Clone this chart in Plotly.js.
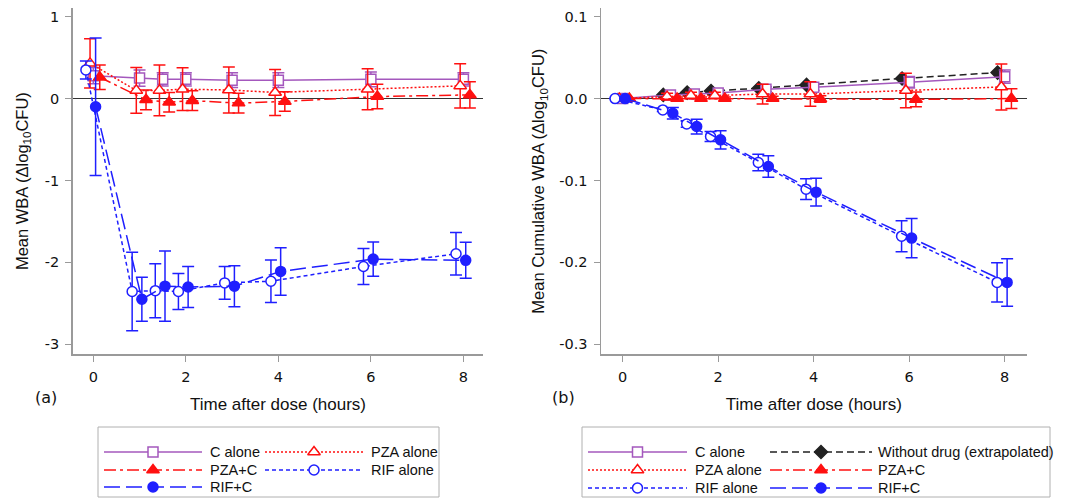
<!DOCTYPE html>
<html>
<head>
<meta charset="utf-8">
<script src="https://cdn.plot.ly/plotly-3.0.1.min.js"></script>
<style>html,body{margin:0;padding:0;background:#fff;}#chart{width:1070px;height:498px;}</style>
</head>
<body>
<div id="chart"></div>
<script>
// ---------------- DATA ----------------
const time = [0, 1, 1.5, 2, 3, 4, 6, 8];
const timeNoDrug = [1, 1.5, 2, 3, 4, 6, 8];

// Panel (a): Mean WBA
const cAloneA     = [0.28, 0.25, 0.235, 0.235, 0.225, 0.225, 0.235, 0.235];
const cAloneAErr  = [0.10, 0.10, 0.08, 0.08, 0.09, 0.09, 0.09, 0.08];
const pzaAloneA   = [0.43, 0.10, 0.10, 0.115, 0.105, 0.075, 0.115, 0.155];
const pzaAloneAErr= [0.30, 0.28, 0.31, 0.26, 0.28, 0.28, 0.25, 0.27];
const pzaCA       = [0.26, -0.015, -0.045, -0.025, -0.055, -0.035, 0.025, 0.045];
const pzaCAErr    = [0.15, 0.12, 0.12, 0.12, 0.12, 0.12, 0.15, 0.16];
const rifAloneA   = [0.35, -2.355, -2.345, -2.355, -2.25, -2.23, -2.05, -1.895];
const rifAloneAErr= [0.11, 0.48, 0.33, 0.22, 0.20, 0.26, 0.22, 0.26];
const rifCA       = [-0.10, -2.45, -2.29, -2.30, -2.29, -2.11, -1.96, -1.975];
const rifCAErr    = [0.84, 0.27, 0.43, 0.25, 0.25, 0.29, 0.21, 0.22];

// Panel (b): Mean cumulative WBA
const cAloneB     = [0, 0.0045, 0.0057, 0.0069, 0.0114, 0.0138, 0.020, 0.0268];
const cAloneBErr  = [0, 0.002, 0.002, 0.002, 0.003, 0.004, 0.007, 0.008];
const pzaAloneB   = [0, 0.0024, 0.0037, 0.0037, 0.0055, 0.0055, 0.0098, 0.0142];
const pzaAloneBErr= [0, 0.004, 0.004, 0.004, 0.012, 0.015, 0.021, 0.028];
const pzaCB       = [0, 0, 0, 0, 0, -0.0005, -0.001, 0];
const pzaCBErr    = [0, 0.002, 0.002, 0.002, 0.003, 0.004, 0.009, 0.012];
const rifAloneB   = [0, -0.0138, -0.031, -0.0463, -0.078, -0.1106, -0.168, -0.2244];
const rifAloneBErr= [0, 0.002, 0.004, 0.006, 0.010, 0.0126, 0.019, 0.024];
const rifCB       = [0, -0.0179, -0.0341, -0.0504, -0.0829, -0.1142, -0.1703, -0.2244];
const rifCBErr    = [0, 0.007, 0.009, 0.011, 0.013, 0.017, 0.024, 0.029];
const noDrugB     = [0.0045, 0.0073, 0.0093, 0.0126, 0.0167, 0.0245, 0.0317];

const xTickVals = [0, 2, 4, 6, 8];
const yTickValsA = [1, 0, -1, -2, -3];
const yTickTextA = ['1', '0', '-1', '-2', '-3'];
const yTickValsB = [0.1, 0, -0.1, -0.2, -0.3];
const yTickTextB = ['0.1', '0.0', '-0.1', '-0.2', '-0.3'];

// ---------------- STYLES ----------------
const PURPLE = '#a458bd', RED = '#ff1010', BLUE = '#1f1fff', BLACK = '#222222';
const S = {
  'C alone':   {color: PURPLE, dash: 'solid', symbol: 'square', fill: '#ffffff', dodge: 0, size: 10},
  'PZA alone': {color: RED, dash: '2px,2px', symbol: 'triangle-up', fill: '#ffffff', dodge: -0.07, size: 11},
  'PZA+C':     {color: RED, dash: '12px,4px,3px,4px', symbol: 'triangle-up', fill: RED, dodge: 0.14, size: 11},
  'RIF alone': {color: BLUE, dash: '4px,3px', symbol: 'circle', fill: '#ffffff', dodge: -0.16, size: 10},
  'RIF+C':     {color: BLUE, dash: '16px,6px', symbol: 'circle', fill: BLUE, dodge: 0.05, size: 10},
  'Without drug (extrapolated)': {color: BLACK, dash: '7px,4px', symbol: 'diamond', fill: BLACK, dodge: -0.15, size: 10}
};

function series(name, t, y, err, xa, ya) {
  const s = S[name];
  const tr = {
    type: 'scatter', mode: 'lines+markers', name: name, showlegend: false,
    x: t.map(v => v + s.dodge), y: y, xaxis: xa, yaxis: ya,
    line: {color: s.color, width: 1.5, dash: s.dash},
    marker: {symbol: s.symbol, size: s.size, color: s.fill, line: {color: s.color, width: 1.5}},
    cliponaxis: false
  };
  if (err) tr.error_y = {type: 'data', array: err, visible: true, color: s.color, thickness: 1.5, width: 6};
  return tr;
}

const traces = [
  series('C alone', time, cAloneA, cAloneAErr, 'x', 'y'),
  series('PZA alone', time, pzaAloneA, pzaAloneAErr, 'x', 'y'),
  series('PZA+C', time, pzaCA, pzaCAErr, 'x', 'y'),
  series('RIF alone', time, rifAloneA, rifAloneAErr, 'x', 'y'),
  series('RIF+C', time, rifCA, rifCAErr, 'x', 'y'),

  series('Without drug (extrapolated)', timeNoDrug, noDrugB, null, 'x2', 'y2'),
  series('C alone', time, cAloneB, cAloneBErr, 'x2', 'y2'),
  series('PZA alone', time, pzaAloneB, pzaAloneBErr, 'x2', 'y2'),
  series('PZA+C', time, pzaCB, pzaCBErr, 'x2', 'y2'),
  series('RIF alone', time, rifAloneB, rifAloneBErr, 'x2', 'y2'),
  series('RIF+C', time, rifCB, rifCBErr, 'x2', 'y2')
];

// ---------------- LEGENDS (drawn on an overlay pixel axis) ----------------
const legendA = {box: [98, 427, 439, 497], cols: [[104, 202, 208], [265, 363, 369]], rows: [452, 470, 487],
  items: [['C alone', 0, 0], ['PZA alone', 1, 0], ['PZA+C', 0, 1], ['RIF alone', 1, 1], ['RIF+C', 0, 2]]};
const legendB = {box: [582, 427, 1050, 497], cols: [[588, 687, 693], [770, 872, 876]], rows: [452, 470, 488],
  items: [['C alone', 0, 0], ['Without drug (extrapolated)', 1, 0], ['PZA alone', 0, 1], ['PZA+C', 1, 1], ['RIF alone', 0, 2], ['RIF+C', 1, 2]]};

const shapes = [];
const annotations = [];
[legendA, legendB].forEach(L => {
  shapes.push({type: 'rect', xref: 'x3', yref: 'y3', x0: L.box[0], y0: L.box[1], x1: L.box[2], y1: L.box[3],
    line: {color: '#b0b0b0', width: 1}, fillcolor: 'rgba(0,0,0,0)'});
  L.items.forEach(([name, c, r]) => {
    const s = S[name];
    const [x0, x1, xt] = L.cols[c];
    const y = L.rows[r];
    traces.push({
      type: 'scatter', mode: 'lines+markers', showlegend: false, hoverinfo: 'skip',
      x: [x0, (x0 + x1) / 2, x1], y: [y, y, y], xaxis: 'x3', yaxis: 'y3',
      line: {color: s.color, width: 1.5, dash: s.dash},
      marker: {symbol: s.symbol, size: s.size, color: s.fill, opacity: [0, 1, 0], line: {color: s.color, width: 1.5}}
    });
    annotations.push({xref: 'x3', yref: 'y3', x: xt, y: y, text: name, showarrow: false,
      xanchor: 'left', yanchor: 'middle', font: {family: 'Liberation Sans, Arial, sans-serif', size: 14.5, color: '#111'}});
  });
});
annotations.push({xref: 'x3', yref: 'y3', x: 46, y: 397, text: '(a)', showarrow: false, xanchor: 'center', yanchor: 'middle',
  font: {family: 'DejaVu Sans, sans-serif', size: 16, color: '#111'}});
annotations.push({xref: 'x3', yref: 'y3', x: 563, y: 397, text: '(b)', showarrow: false, xanchor: 'center', yanchor: 'middle',
  font: {family: 'DejaVu Sans, sans-serif', size: 16, color: '#111'}});

// ---------------- LAYOUT ----------------
const W = 1070, H = 498;
const tickFont = {family: 'DejaVu Sans, sans-serif', size: 14.5, color: '#111'};
const titleFont = {family: 'Liberation Sans, Arial, sans-serif', size: 17, color: '#111'};
const yTitleFont = {family: 'Liberation Sans, Arial, sans-serif', size: 16.5, color: '#111'};
const yDom = [1 - 354.3 / H, 1 - 8 / H];

function xAxis(dom, range, anchor) {
  return {domain: dom, range: range, anchor: anchor, tickvals: xTickVals, ticks: 'outside', ticklen: 6, tickwidth: 1.2,
    tickcolor: '#9a9a9a', showline: true, linecolor: '#9a9a9a', linewidth: 1.5, showgrid: false, zeroline: false,
    tickfont: tickFont, ticklabelstandoff: 3, automargin: false,
    title: {text: 'Time after dose (hours)', font: titleFont, standoff: 14}};
}
function yAxis(dom, range, anchor, vals, text, title, standoff) {
  return {domain: dom, range: range, anchor: anchor, tickvals: vals, ticktext: text, ticks: 'outside', ticklen: 6,
    tickwidth: 1.2, tickcolor: '#9a9a9a', showline: true, linecolor: '#9a9a9a', linewidth: 1.5, showgrid: false,
    zeroline: true, zerolinecolor: '#333333', zerolinewidth: 1.5, tickfont: tickFont, ticklabelstandoff: 3,
    automargin: false, title: {text: title, font: yTitleFont, standoff: standoff}};
}

const layout = {
  width: W, height: H,
  margin: {l: 0, r: 0, t: 0, b: 0, pad: 0},
  paper_bgcolor: '#ffffff', plot_bgcolor: 'rgba(0,0,0,0)',
  showlegend: false,
  xaxis: xAxis([72.7 / W, 483.3 / W], [-0.445, 8.43], 'y'),
  yaxis: yAxis(yDom, [-3.122, 1.106], 'x', yTickValsA, yTickTextA, 'Mean WBA (Δlog<sub>10</sub>CFU)', 12),
  xaxis2: xAxis([601 / W, 1026.7 / W], [-0.454, 8.46], 'y2'),
  yaxis2: yAxis(yDom, [-0.3122, 0.1106], 'x2', yTickValsB, yTickTextB, 'Mean Cumulative WBA (Δlog<sub>10</sub>CFU)', 10),
  xaxis3: {domain: [0, 1], range: [0, W], anchor: 'y3', visible: false, fixedrange: true},
  yaxis3: {domain: [0, 1], range: [H, 0], anchor: 'x3', visible: false, fixedrange: true},
  shapes: shapes,
  annotations: annotations
};

Plotly.newPlot('chart', traces, layout, {displayModeBar: false, staticPlot: true});
</script>
</body>
</html>
